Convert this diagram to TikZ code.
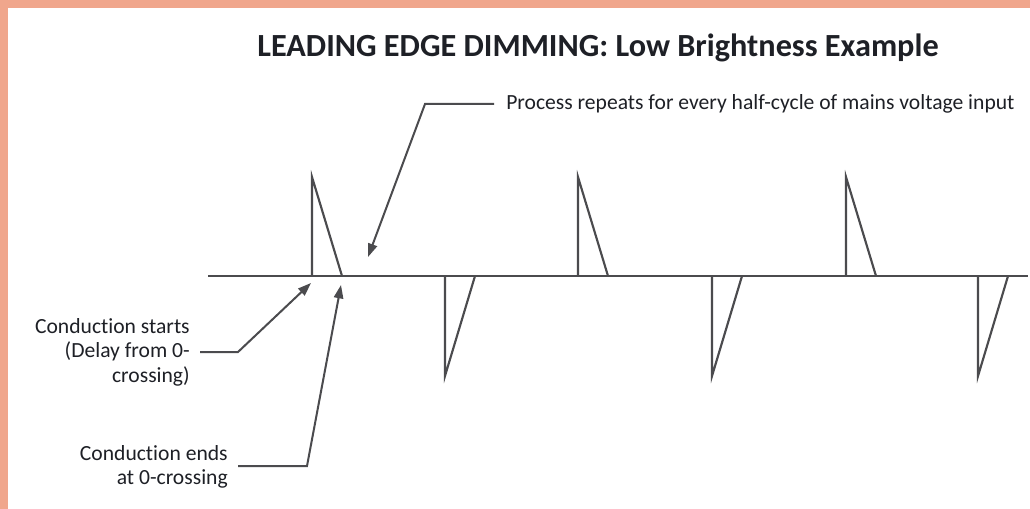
\documentclass[tikz,border=0pt]{standalone}
\usepackage{fontspec}
\setmainfont{Carlito}[Ligatures=NoCommon]
\usetikzlibrary{arrows.meta}
\definecolor{framec}{RGB}{240,166,140}
\definecolor{ink}{RGB}{75,75,78}
\definecolor{txt}{RGB}{30,32,38}
\begin{document}
\begin{tikzpicture}[x=0.75pt,y=-0.75pt,
  wave/.style={draw=ink,line width=1.6pt,line join=miter},
  lead/.style={draw=ink,line width=1.5pt,-{Triangle[length=10pt,width=7pt]}},
  lbl/.style={text=txt,font=\fontsize{16.2}{18.4}\selectfont,inner sep=0pt}]
\fill[framec] (0,0) rectangle (1030,509);
\fill[white] (8,8) rectangle (1030,509);
\useasboundingbox (0,0) rectangle (1030,509);

\node[lbl,font=\bfseries\fontsize{24.2}{28}\selectfont] (title) at (598,48) {LEADING EDGE DIMMING: Low Brightness Example};

% waveform
\draw[wave] (208,276) -- (1028,276);
\foreach \x in {312,578,846}{
  \draw[wave] (\x,276) -- (\x,177) -- (\x+30,276);
}
\foreach \x in {445,712,978}{
  \draw[wave] (\x,276) -- (\x,376) -- (\x+30,276);
}

% labels
\node[lbl,anchor=west] (rep) at (506,104) {Process repeats for every half-cycle of mains voltage input};
\coordinate (repbend) at (425,104);
\coordinate (reptip) at (368,257);
\draw[lead] ([xshift=-9pt]rep.west) -- (repbend) -- (reptip);

\node[lbl,anchor=east,align=right] (start) at (190,352) {Conduction starts\\(Delay from 0-\\crossing)};
\coordinate (stbend) at (238,352);
\coordinate (sttip) at (311,283);
\draw[lead] ([xshift=7.5pt]start.east) -- (stbend) -- (sttip);

\node[lbl,anchor=east,align=right] (ends) at (228,467) {Conduction ends\\at 0-crossing};
\coordinate (enbend) at (307,466);
\coordinate (entip) at (341,285);
\draw[lead] ([xshift=7.5pt]ends.east |- enbend) -- (enbend) -- (entip);
\end{tikzpicture}
\end{document}
